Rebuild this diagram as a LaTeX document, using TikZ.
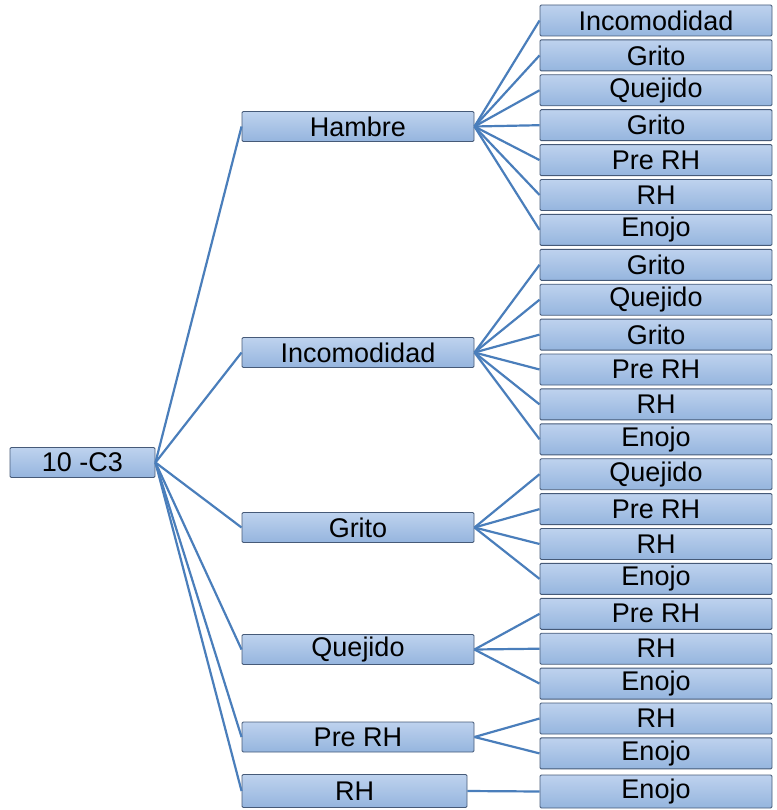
\documentclass[tikz,border=0pt]{standalone}
\usepackage{fontspec}
\setmainfont{Liberation Sans}
\definecolor{boxtop}{RGB}{190,210,238}
\definecolor{boxbot}{RGB}{149,181,222}
\definecolor{boxline}{RGB}{70,90,120}
\definecolor{linkcol}{RGB}{74,126,187}
\begin{document}
\begin{tikzpicture}[x=1pt,y=-1pt,
  cell/.style={draw=boxline, line width=0.9pt, top color=boxtop, bottom color=boxbot,
    rounded corners=1.2pt, inner sep=0pt, minimum height=30,
    font=\fontsize{27}{30}\selectfont, text=black},
  midcell/.style={cell, minimum width=232},
  leafcell/.style={cell, minimum width=232, minimum height=31},
  link/.style={draw=linkcol, line width=2.2pt}]
\useasboundingbox (0,0) rectangle (776,810);

% root
\node[cell, minimum width=145] (root) at (82.5,462.5) {10 -C3};

% second level
\node[midcell] (m1) at (358,126.5) {Hambre};
\node[midcell] (m2) at (358,352.5) {Incomodidad};
\node[midcell] (m3) at (358,527.5) {Grito};
\node[midcell] (m4) at (358,649.5) {Quejido};
\node[midcell] (m5) at (358,737) {Pre RH};
\node[cell, minimum width=225, minimum height=33] (m6) at (354.5,791) {RH};

% third level, stacked column
\foreach \t [count=\i from 0] in {Incomodidad,Grito,Quejido,Grito,Pre RH,RH,Enojo,
    Grito,Quejido,Grito,Pre RH,RH,Enojo,
    Quejido,Pre RH,RH,Enojo,
    Pre RH,RH,Enojo,
    RH,Enojo}
  \node[leafcell] (l\i) at (656,{20.5+\i*34.9}) {\t};
\node[leafcell, minimum height=33] (l22) at (656,791.5) {Enojo};

% connectors
\foreach \m in {1,...,6} \draw[link] (root.east) -- (m\m.west);
\foreach \i in {0,...,6} \draw[link] (m1.east) -- (l\i.west);
\foreach \i in {7,...,12} \draw[link] (m2.east) -- (l\i.west);
\foreach \i in {13,...,16} \draw[link] (m3.east) -- (l\i.west);
\foreach \i in {17,...,19} \draw[link] (m4.east) -- (l\i.west);
\foreach \i in {20,21} \draw[link] (m5.east) -- (l\i.west);
\draw[link] (m6.east) -- (l22.west);
\end{tikzpicture}
\end{document}
